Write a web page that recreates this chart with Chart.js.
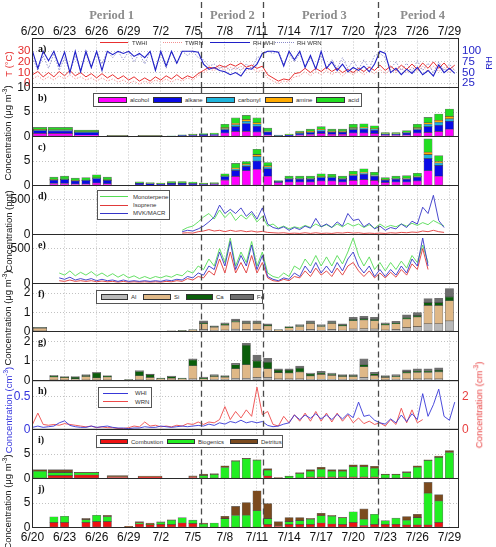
<!DOCTYPE html>
<html><head><meta charset="utf-8">
<script src="https://cdn.jsdelivr.net/npm/chart.js@4.4.1/dist/chart.umd.min.js"></script>
<style>
html,body{margin:0;padding:0;background:#fff}
body{position:relative;width:496px;height:547px;overflow:hidden;font-family:"Liberation Sans",Arial,sans-serif}
canvas{position:absolute;left:0}
.tx{position:absolute;white-space:nowrap;line-height:1}
.per{font:bold 12.5px "Liberation Serif",serif;color:#8c8c8c;transform:translateX(-50%);top:8px}
.dl{font-size:12px;color:#111;transform:translateX(-50%);top:25px}
.lt{font:bold 10px "Liberation Serif",serif;color:#111}
.rot{font-size:9.5px;transform:translate(-50%,-50%) rotate(-90deg)}
.rot sup{font-size:6.5px;vertical-align:4px;line-height:0}
.lg{position:absolute;background:#fff;border:1px solid #555;box-sizing:border-box}
.lgt{position:absolute;font-size:6px;color:#333;white-space:nowrap;line-height:1;transform:translateY(-50%)}
.sw{position:absolute;box-sizing:border-box}
</style></head><body>
<script>
// ---------------- DATA ----------------
const tickLabels = ['6/20','6/23','6/26','6/29','7/2','7/5','7/8','7/11','7/14','7/17','7/20','7/23','7/26','7/29'];
const tickDays = [0,3,6,9,12,15,18,21,24,27,30,33,36,39];          // days since 6/20
const periodNames = ['Period 1','Period 2','Period 3','Period 4'];
const periodBounds = [15.8, 21.6, 32.3];                           // days since 6/20
const periodMid = [7.4, 18.7, 27.3, 36.5];                         // label centres (days)

// a) meteorology, every 0.5 day from 6/20
const metStart = 0, metStep = 0.5;
const tWhi = [8,11,6,10,6,11,7,12,7,10,6,9,5,9,5,8, 4,7,3,6,2,5,2,6,3,7,4,8,4,7,5,9, 12,15,14,17,15,18,16,19,15,17,14,16,8,5,2,4, 3,9,10,14,10,14,11,15,11,14,10,13,10,14,11,15, 12,17,12,16,12,17,13,18,13,19,14,20,14,19,13,17];
const tWrn = [4,7,3,6,3,7,4,8,4,6,3,5,2,5,2,4, 1,3,0,2,-1,2,0,3,1,4,1,4,2,5,3,7, 10,13,12,15,12,15,13,16,12,14,11,12,5,2,0,2, 1,6,7,11,7,11,8,12,8,11,7,11,8,12,8,12, 9,13,9,13,10,14,10,15,11,16,11,16,11,15,10,14];
const rhWhi = [100,60,100,78,100,65,98,50,100,52,100,62,100,55,100,92, 100,95,100,88,95,85,100,55,100,65,100,72,100,100,100,98, 70,58,62,55,52,45,50,42,60,58,70,95,100,100,98,65, 100,80,100,62,90,58,100,60,75,55,70,52,62,55,65,52, 70,100,95,50,60,45,58,48,62,45,55,42,68,50,60,48];
const rhWrn = [85,55,90,60,95,55,85,50,90,55,95,60,100,70,100,85, 100,80,100,75,95,70,100,60,95,60,100,70,100,90,100,85, 80,65,70,60,65,55,62,55,70,60,85,90,100,95,100,70, 95,75,95,65,85,60,90,62,80,60,85,60,78,58,80,60, 90,95,85,60,75,55,72,52,78,55,72,50,75,55,70,55];

// WHI filter samples (centre day, duration in days)
const whiCenter = [0.7,2.6,5.05,7.95,11.0,13,14,15,16,17,18,19,20,21,22,23,24,25,26,27,28,29,30,31,32,33,34,35,36,37,38,39];
const whiDuration = [1.25,2.3,2.3,1.95,2.25,0.78,0.78,0.78,0.78,0.78,0.78,0.78,0.78,0.78,0.78,0.78,0.78,0.78,0.78,0.78,0.78,0.78,0.78,0.78,0.78,0.78,0.78,0.78,0.78,0.78,0.78,0.78];
// WRN filter samples
const wrnCenter = [2,3,4,5,6,7,9,10,11,12,13,14,15,16,17,18,19,20,21,22,23,24,25,26,27,28,29,30,31,32,33,34,35,36,37,38];
const wrnDuration = wrnCenter.map(() => 0.78);

// b) WHI organics
const bAlcohol = [0.6,0.6,0.25,0.02,0.02,0.01,0.05,0.1,0.12,0.15,0.7,1.0,1.05,0.9,0.3,0.05,0.1,0.3,0.4,0.6,0.45,0.45,0.7,0.7,0.6,0.2,0.2,0.3,0.7,0.8,1.0,1.5];
const bAlkane  = [0.6,0.55,0.55,0.12,0.12,0.05,0.15,0.2,0.25,0.25,0.7,1.0,1.6,1.2,0.6,0.1,0.15,0.3,0.4,0.5,0.4,0.4,0.7,0.8,0.7,0.25,0.25,0.4,0.7,1.2,1.3,1.6];
const bCarbonyl= [0.15,0.15,0.1,0.02,0.02,0.01,0.03,0.05,0.05,0.07,0.2,0.4,0.45,0.4,0.1,0.03,0.05,0.1,0.15,0.2,0.15,0.15,0.25,0.25,0.2,0.05,0.05,0.1,0.2,0.5,0.6,0.5];
const bAmine   = [0.05,0.05,0.05,0.01,0.01,0,0.02,0.02,0.03,0.03,0.2,0.3,0.35,0.3,0.1,0.02,0.05,0.1,0.1,0.15,0.1,0.1,0.15,0.15,0.1,0.05,0.05,0.05,0.2,0.3,0.4,0.5];
const bAcid    = [0.45,0.5,0.35,0.08,0.08,0.03,0.1,0.13,0.15,0.2,0.7,1.1,0.85,1.0,0.6,0.1,0.15,0.3,0.45,0.55,0.4,0.4,0.7,0.7,0.6,0.25,0.25,0.35,0.7,1.1,1.3,1.5];
// c) WRN organics
const cAlcohol = [0.4,0.4,0.3,0.3,0.5,0.35,0,0.1,0.05,0.05,0.1,0.1,0.1,0.1,0.15,1.1,1.85,3.0,3.3,1.9,0.6,0.7,0.7,0.7,0.9,0.9,0.7,1.0,1.2,1.0,0.6,0.7,0.7,0.9,3.0,1.9];
const cAlkane  = [0.7,0.8,0.6,0.7,0.9,0.7,0,0.35,0.3,0.25,0.35,0.35,0.3,0.2,0.2,0.7,1.2,0.9,1.7,1.5,0.2,0.6,0.6,0.6,0.7,0.7,0.6,1.0,1.1,0.9,0.5,0.6,0.6,0.8,2.5,2.2];
const cCarbonyl= [0.05,0.05,0.05,0.05,0.1,0.05,0,0.02,0.02,0.02,0.03,0.03,0.03,0.02,0.03,0.1,0.3,0.3,0.9,0.4,0.05,0.1,0.1,0.1,0.1,0.1,0.1,0.2,0.2,0.15,0.05,0.1,0.1,0.1,0.8,0.5];
const cAmine   = [0.05,0.05,0.05,0.05,0.05,0.05,0,0.03,0.03,0.02,0.02,0.02,0.02,0.02,0.02,0.05,0.2,0.2,0.4,0.2,0.05,0.05,0.05,0.05,0.1,0.05,0.05,0.1,0.2,0.1,0.05,0.05,0.1,0.1,0.5,0.3];
const cAcid    = [0.5,0.6,0.5,0.5,0.65,0.55,0,0.25,0.2,0.16,0.3,0.3,0.25,0.16,0.2,0.45,0.95,0.5,1.1,0.7,0.1,0.45,0.45,0.45,0.6,0.55,0.45,0.6,0.7,0.55,0.4,0.45,0.5,0.6,2.7,1.2];

// d) WHI VOCs every 0.5 day from 7/4
const dStart = 14, dStep = 0.5;
const dMono = [60,100,120,180,250,300,220,350,240,320,200,280,220,300,180,260,120,150,90,120,80,110,90,130,100,150,110,140,100,150,110,160,120,150,100,140,90,150,100,130,110,150,120,160,130,170,140,200,160,120];
const dIso  = [20,25,20,40,50,70,50,60,40,60,45,55,40,50,35,45,30,25,20,25,15,20,15,25,15,25,15,20,15,25,20,30,20,25,15,20,15,20,15,25,20,30,25,35,30,50,40,60,40,30];
const dMvk  = [40,60,50,80,120,180,250,420,300,360,300,380,260,330,220,380,150,100,80,110,60,100,70,120,90,230,110,150,100,180,120,300,200,220,110,160,80,120,60,100,80,150,100,190,150,390,300,560,200,100];
// e) WRN VOCs every 0.5 day from 6/22 12h
const eStart = 2.5, eStep = 0.5;
const eMono = [150,120,180,110,160,120,170,110,150,100,140,90,130,80,110,70,100,70,100,80,110,90,130,110,180,150,250,200,350,250,500,300,650,250,450,300,600,250,450,150,100,80,150,100,250,200,350,250,400,250,380,250,400,280,450,650,400,250,380,200,300,180,300,200,320,220,400,300,550,300];
const eIso  = [40,30,50,30,40,30,40,25,35,25,30,20,30,20,25,20,25,20,25,20,30,25,40,30,70,50,100,80,180,120,350,150,450,150,300,150,400,150,300,80,40,30,60,40,100,80,180,100,220,120,180,100,220,120,250,300,180,100,180,80,150,80,160,90,200,120,280,200,500,200];
const eMvk  = [80,60,90,50,70,50,70,40,60,40,50,30,50,30,40,30,40,30,40,30,50,40,60,50,100,80,150,120,250,200,450,250,600,200,400,250,550,200,400,100,60,40,80,60,150,100,250,150,300,150,250,150,300,180,350,450,250,150,250,100,200,100,200,120,250,150,350,250,650,250];

// f) WHI elements
const fAl = [0.03,0,0,0,0,0,0.01,0.02,0.1,0.05,0.08,0.12,0.1,0.1,0.07,0.02,0.05,0.06,0.1,0.06,0.1,0.07,0.13,0.14,0.13,0.08,0.1,0.2,0.25,0.4,0.4,0.55];
const fSi = [0.14,0,0,0,0,0.01,0.02,0.05,0.3,0.17,0.25,0.37,0.32,0.32,0.22,0.05,0.14,0.2,0.32,0.2,0.32,0.22,0.43,0.46,0.43,0.26,0.3,0.45,0.5,0.95,0.95,1.05];
const fCa = [0.02,0,0,0,0,0.01,0.01,0.01,0.05,0.03,0.05,0.06,0.05,0.05,0.04,0.01,0.03,0.04,0.05,0.04,0.05,0.04,0.07,0.07,0.07,0.04,0.05,0.08,0.08,0.15,0.15,0.2];
const fFe = [0.03,0,0,0,0,0.01,0.01,0.02,0.11,0.05,0.07,0.1,0.09,0.09,0.07,0.02,0.04,0.06,0.09,0.06,0.09,0.07,0.11,0.12,0.11,0.07,0.08,0.14,0.16,0.21,0.23,0.44];
// g) WRN elements
const gAl = [0.03,0.03,0.02,0.03,0.03,0.03,0,0.04,0.03,0.02,0.03,0.02,0.08,0.02,0.05,0.05,0.1,0.1,0.15,0.15,0.08,0.08,0.08,0.05,0.06,0.06,0.05,0.05,0.15,0.06,0.04,0.05,0.08,0.08,0.08,0.08];
const gSi = [0.15,0.12,0.06,0.17,0.1,0.15,0.01,0.2,0.12,0.05,0.08,0.05,0.67,0.05,0.15,0.12,0.5,0.7,0.5,0.45,0.32,0.3,0.35,0.18,0.25,0.2,0.15,0.15,0.55,0.2,0.12,0.14,0.3,0.33,0.33,0.36];
const gCa = [0.03,0.02,0.09,0.05,0.25,0.03,0.02,0.22,0.15,0.03,0.08,0.03,0.3,0.05,0.04,0.03,0.2,1.0,0.35,0.33,0.12,0.14,0.2,0.1,0.08,0.06,0.05,0.05,0.1,0.08,0.04,0.05,0.07,0.07,0.07,0.08];
const gFe = [0.05,0.03,0.03,0.05,0.04,0.04,0.02,0.04,0.03,0.02,0.04,0.02,0.05,0.05,0.06,0.05,0.07,0.1,0.3,0.2,0.08,0.08,0.1,0.05,0.08,0.06,0.05,0.05,0.3,0.08,0.05,0.06,0.1,0.12,0.12,0.13];

// h) particle number, every 0.5 day
const hStart = 0, hStep = 0.5;
const hWhi = [0.03,0.05,0.03,0.04,0.05,0.1,0.13,0.06,0.04,0.03,0.03,0.05,0.03,0.04,0.05,0.03, 0.02,0.02,0.01,0.02,0.02,0.04,0.03,0.03,0.05,0.04,0.03,0.04,0.05,0.04,0.05,0.06, 0.05,0.08,0.06,0.1,0.08,0.12,0.1,0.14,0.1,0.12,0.1,0.12,0.06,0.04,0.05,0.08, 0.1,0.22,0.15,0.22,0.17,0.24,0.16,0.22,0.15,0.23,0.16,0.24,0.18,0.42,0.2,0.22, 0.14,0.1,0.08,0.16,0.1,0.22,0.12,0.24,0.15,0.55,0.2,0.38,0.62,0.2,0.14,0.42];
const hWrn = [0.3,1.0,0.3,0.25,0.3,0.25,0.35,0.3,0.25,0.2,0.15,0.2,0.1,0.15,0.1,0.1, 0.05,0.05,0.1,0.2,0.15,0.45,0.2,0.25,0.15,0.2,0.15,0.25,0.2,0.35,0.3,0.45, 0.3,0.45,0.4,0.6,1.4,0.6,1.1,0.7,1.2,0.8,2.6,0.9,1.1,0.3,0.2,0.8, 0.4,0.9,0.5,1.0,0.5,1.1,0.5,1.0,0.45,1.0,0.5,0.9,0.4,0.7,0.35,0.5, 0.3,0.4,0.2,0.6,0.3,1.3,0.4,1.2,0.4,0.6];

// i) WHI sources
const iComb = [0.1,0.6,0.7,0.3,0.25,0,0,0.3,0.1,0.1,0.05,0.05,0.05,0.05,0.5,0.1,0.05,0.1,0.3,0.3,0.3,0.3,0.3,0.3,0.3,0.1,0.1,0.2,0.1,0.1,0.05,0.05];
const iBio  = [1.4,0.6,0.5,0,0,0,0,0,0.5,0.7,2.2,3.5,4.0,3.7,1.2,0,0.4,0.9,1.2,1.6,1.2,1.2,2.1,2.1,1.8,0.7,0.7,1.0,2.2,3.6,4.25,5.25];
const iDet  = [0.3,0.6,0.05,0.3,0.25,0,0,0.25,0.3,0.2,0.35,0.1,0.05,0.05,0.3,0.1,0.05,0.2,0.3,0.4,0.3,0.3,0.4,0.4,0.4,0.1,0.1,0.2,0.3,0.1,0.3,0.4];
// j) WRN sources
const jComb = [1.0,1.0,0,1.0,1.2,1.2,0.1,0.7,0.6,0.6,0.6,0.9,0.8,0.1,0.05,0.05,0.05,0.05,0.05,0.6,0.3,0.6,0.6,0.6,0.9,0.7,0.6,1.0,0.4,0.6,0.6,0.6,0.5,0.5,0.5,1.0];
const jBio  = [1.2,1.3,0,0.6,1.3,1.0,0,0.2,0.05,0.5,0.9,1.1,0.7,0.6,0.85,1.75,2.4,2.45,3.35,1.2,0,0.6,0.8,1.1,1.5,1.6,1.4,2.2,1.3,2.1,0.8,1.3,1.0,1.5,6.5,4.4];
const jDet  = [0,0,0,0.25,0,0.3,0.15,0.3,0.25,0.05,0.05,0,0,0.2,0,0.5,1.85,2.6,4.1,3.1,0.9,0.85,0.65,0.15,0.5,0.2,0.05,0,2.1,0,0,0,0.75,0.7,2.2,1.3];

// ---------------- LAYOUT / STYLE ----------------
Chart.defaults.font.family = '"Liberation Sans", Arial, sans-serif';
const L = 32.5, R = 458.5, XMAX = 39.85;
const pxPerDay = (R - L) / XMAX;
const edges = Array.from({length: 11}, (_, i) => Math.round(38 + i * 48.9) + 0.5);
const GRID = '#c2c2c2';
const C = {red:'#e52b2b', blue:'#2424c8', orgColors:['#ff00ff','#0a0ae6','#1eb4dc','#ffaa00','#22dd22'],
  elColors:['#b9b9b9','#dfb887','#0b5e0b','#6e6e6e'], srcColors:['#ee1111','#22ee22','#7b4a1e']};

function pts(start, step, vals) { return vals.map((v, k) => ({x: start + k * step, y: v})); }

function barSets(centers, durations, comps, colors) {
  const groups = [...new Set(durations)];
  const sets = [];
  comps.forEach((vals, ci) => {
    groups.forEach(du => {
      const data = [];
      centers.forEach((c, k) => { if (durations[k] === du && vals[k] > 0) data.push({x: c, y: vals[k]}); });
      if (data.length) sets.push({type: 'bar', data, backgroundColor: colors[ci], borderColor: 'rgba(20,20,20,0.6)',
        borderWidth: 0.6, borderSkipped: false, grouped: false, barThickness: du * pxPerDay, yAxisID: 'y'});
    });
  });
  return sets;
}
function line(data, color, opt) {
  return Object.assign({type: 'line', data, borderColor: color, borderWidth: 0.9, pointRadius: 0, tension: 0, fill: false, yAxisID: 'y'}, opt || {});
}

const framePlugin = {
  id: 'frame',
  afterDatasetsDraw(chart, args, opts) {
    const {ctx, chartArea: a} = chart;
    const x = chart.scales.x;
    ctx.save();
    ctx.strokeStyle = '#2a2a2a'; ctx.lineWidth = 1;
    ctx.strokeRect(a.left, a.top, a.right - a.left, a.bottom - a.top);
    ctx.setLineDash([6, 4]); ctx.strokeStyle = '#4a4a4a'; ctx.lineWidth = 1.3;
    periodBounds.forEach(d => {
      const px = Math.round(x.getPixelForValue(d)) + 0.5;
      ctx.beginPath(); ctx.moveTo(px, opts.first ? 2 : a.top); ctx.lineTo(px, a.bottom); ctx.stroke();
    });
    ctx.restore();
  }
};

function yScale(o, pos, stacked) {
  return {type: 'linear', position: pos, min: o.min, max: o.max, stacked: !!stacked,
    afterBuildTicks: s => { s.ticks = o.ticks.map(v => ({value: v})); },
    afterFit: s => { s.width = pos === 'left' ? L : 496 - R; },
    ticks: {color: o.color || '#111', font: {size: o.size || 12}, padding: pos === 'left' ? 2 : 3.5, autoSkip: false,
      callback: v => (o.labels || o.ticks).includes(v) ? String(v) : ''},
    grid: {display: pos === 'left', color: GRID, drawTicks: false},
    border: {display: false, dash: [1, 2]}};
}

const charts = [];
function makeChart(idx, spec) {
  const top = edges[idx], bottom = edges[idx + 1];
  const first = idx === 0, last = idx === 9;
  const cTop = first ? 0 : Math.floor(top) - 10;
  const cBot = last ? 547 : Math.ceil(bottom) + 10;
  const H = cBot - cTop;
  const cv = document.createElement('canvas');
  cv.width = 496; cv.height = H;
  cv.style.top = cTop + 'px'; cv.style.width = '496px'; cv.style.height = H + 'px';
  document.body.appendChild(cv);
  const xH = last ? 18 : 0;
  const padTop = top - cTop;
  const padBottom = cBot - bottom - xH;
  const scales = {
    x: {type: 'linear', min: 0, max: XMAX, offset: false, position: 'bottom',
      afterBuildTicks: s => { s.ticks = tickDays.map(v => ({value: v})); },
      afterFit: s => { s.height = xH; },
      ticks: {display: last, autoSkip: false, maxRotation: 0, padding: 3, color: '#111',
        font: {size: 12}, callback: (v, i) => tickLabels[i]},
      grid: {color: GRID, lineWidth: 1, drawTicks: false, offset: false},
      border: {display: false, dash: [1, 2]}},
    y: yScale(spec.y, 'left', spec.stacked)
  };
  if (spec.y2) scales.y2 = yScale(spec.y2, 'right', false);
  charts.push(new Chart(cv, {
    type: spec.stacked ? 'bar' : 'line',
    data: {datasets: spec.datasets},
    options: {
      responsive: false, animation: false, devicePixelRatio: 1, events: [],
      layout: {autoPadding: false, padding: {top: padTop, bottom: padBottom, left: 0, right: spec.y2 ? 0 : 496 - R}},
      plugins: {legend: {display: false}, tooltip: {enabled: false}, frame: {first}},
      scales
    },
    plugins: [framePlugin]
  }));
}

// a
makeChart(0, {y: {min: -4, max: 42, ticks: [0, 10, 20, 30], color: C.red, size: 11.5},
  y2: {min: 15, max: 130, ticks: [25, 50, 75, 100], color: C.blue, size: 11.5},
  datasets: [
    line(pts(metStart, metStep, rhWhi), '#2020c8', {yAxisID: 'y2', borderWidth: 1.1}),
    line(pts(metStart, metStep, tWhi), '#e83030', {borderWidth: 1}),
    line(pts(metStart, metStep, rhWrn), '#8a8ac8', {yAxisID: 'y2', borderDash: [1.5, 1.5]}),
    line(pts(metStart, metStep, tWrn), '#f29090', {borderDash: [1.5, 1.5]})
  ]});
// b
makeChart(1, {stacked: true, y: {min: 0, max: 10, ticks: [0, 5, 10]},
  datasets: barSets(whiCenter, whiDuration, [bAlcohol, bAlkane, bCarbonyl, bAmine, bAcid], C.orgColors)});
// c
makeChart(2, {stacked: true, y: {min: 0, max: 10, ticks: [0, 5, 10], labels: [0, 5]},
  datasets: barSets(wrnCenter, wrnDuration, [cAlcohol, cAlkane, cCarbonyl, cAmine, cAcid], C.orgColors)});
// d
makeChart(3, {y: {min: 0, max: 700, ticks: [0, 500]},
  datasets: [
    line(pts(dStart, dStep, dMvk), '#3535c8'),
    line(pts(dStart, dStep, dIso), '#e03a3a'),
    line(pts(dStart, dStep, dMono), '#55dd55')
  ]});
// e
makeChart(4, {y: {min: 0, max: 700, ticks: [0, 500]},
  datasets: [
    line(pts(eStart, eStep, eMvk), '#3535c8'),
    line(pts(eStart, eStep, eIso), '#e03a3a'),
    line(pts(eStart, eStep, eMono), '#55dd55')
  ]});
// f
makeChart(5, {stacked: true, y: {min: 0, max: 2.5, ticks: [0, 1, 2]},
  datasets: barSets(whiCenter, whiDuration, [fAl, fSi, fCa, fFe], C.elColors)});
// g
makeChart(6, {stacked: true, y: {min: 0, max: 2.5, ticks: [0, 1, 2]},
  datasets: barSets(wrnCenter, wrnDuration, [gAl, gSi, gCa, gFe], C.elColors)});
// h
makeChart(7, {y: {min: 0, max: 0.75, ticks: [0, 0.5], color: '#3333dd'},
  y2: {min: 0, max: 3, ticks: [0, 2], color: '#e84040'},
  datasets: [
    line(pts(hStart, hStep, hWhi), '#3838d8'),
    line(pts(hStart, hStep, hWrn), '#ee4a4a', {yAxisID: 'y2'})
  ]});
// i
makeChart(8, {stacked: true, y: {min: 0, max: 10, ticks: [0, 5, 10], labels: [0, 5]},
  datasets: barSets(whiCenter, whiDuration, [iComb, iBio, iDet], C.srcColors)});
// j
makeChart(9, {stacked: true, y: {min: 0, max: 10, ticks: [0, 5, 10], labels: [0, 5]},
  datasets: barSets(wrnCenter, wrnDuration, [jComb, jBio, jDet], C.srcColors)});

// ---------------- TEXT / LEGENDS ----------------
function div(cls, html, css) {
  const d = document.createElement('div'); d.className = cls; d.innerHTML = html;
  Object.assign(d.style, css || {}); document.body.appendChild(d); return d;
}
const xs = charts[0].scales.x;
periodMid.forEach((d, k) => div('tx per', periodNames[k], {left: xs.getPixelForValue(d) + 'px'}));
tickDays.forEach((d, k) => div('tx dl', tickLabels[k], {left: xs.getPixelForValue(d) + 'px'}));
'abcdefghij'.split('').forEach((ch, k) => div('tx lt', ch + ')', {left: '38px', top: (edges[k] + 4) + 'px'}));

const mu = 'Concentration (\u03bcg m<sup>-3</sup>)';
div('tx rot', 'T (\u00b0C)', {left: '9px', top: '64px', color: C.red});
div('tx rot', 'RH', {left: '489px', top: '63px', color: C.blue});
div('tx rot', mu, {left: '8px', top: '133px', color: '#111'});
div('tx rot', 'Concentration (ppt)', {left: '9px', top: '231px', color: '#111'});
div('tx rot', mu, {left: '8px', top: '318px', color: '#111'});
div('tx rot', 'Concentration (cm<sup>-3</sup>)', {left: '9px', top: '410px', color: '#3333dd'});
div('tx rot', 'Concentration (cm<sup>-3</sup>)', {left: '479px', top: '405px', color: '#e84040'});
div('tx rot', mu, {left: '8px', top: '502px', color: '#111'});

function box(x1, y1, x2, y2) { div('lg', '', {left: x1 + 'px', top: y1 + 'px', width: (x2 - x1) + 'px', height: (y2 - y1) + 'px'}); }
function swRect(x1, x2, yc, h, color) { div('sw', '', {left: x1 + 'px', top: (yc - h / 2) + 'px', width: (x2 - x1) + 'px', height: h + 'px', background: color, border: '0.5px solid #333'}); }
function swLine(x1, x2, yc, color, style) { div('sw', '', {left: x1 + 'px', top: (yc - 0.5) + 'px', width: (x2 - x1) + 'px', height: '0px', borderTop: '1px ' + (style || 'solid') + ' ' + color}); }
function lt(x, yc, text) { div('lgt', text, {left: x + 'px', top: yc + 'px'}); }

// a legend (no frame)
swLine(100, 128, 42.7, '#e83030'); lt(132, 42.7, 'TWHI');
swLine(163, 182, 42.7, '#f29090', 'dotted'); lt(185, 42.7, 'TWRN');
swLine(210, 250, 42.7, '#2020c8'); lt(253, 42.7, 'RH WHI');
swLine(275, 294, 42.7, '#8a8ac8', 'dotted'); lt(297, 42.7, 'RH WRN');
// b legend
box(93, 93, 362, 107);
const orgNames = ['alcohol', 'alkane', 'carbonyl', 'amine', 'acid'];
[[98, 127, 130], [153, 182, 185], [206, 235, 238], [265, 293, 296], [316, 345, 348]].forEach((p, k) => {
  swRect(p[0], p[1], 99.8, 5.5, C.orgColors[k]); lt(p[2], 99.8, orgNames[k]); });
// d legend
box(97, 190, 170, 220);
swLine(100, 128, 196.7, '#55dd55'); lt(133, 196.7, 'Monoterpene');
swLine(100, 128, 205, '#e03a3a'); lt(133, 205, 'Isoprene');
swLine(100, 128, 213.3, '#3535c8'); lt(133, 213.3, 'MVK/MACR');
// f legend
box(96, 290, 263, 304);
const elNames = ['Al', 'Si', 'Ca', 'Fe'];
[[101, 128, 131], [143, 171, 174], [186, 213, 216], [230, 254, 257]].forEach((p, k) => {
  swRect(p[0], p[1], 297, 5.5, C.elColors[k]); lt(p[2], 297, elNames[k]); });
// h legend
box(98, 387, 152, 408);
swLine(103, 128, 393.3, '#3838d8'); lt(135, 393.3, 'WHI');
swLine(103, 128, 401.7, '#ee4a4a'); lt(135, 401.7, 'WRN');
// i legend
box(96, 435, 283, 448);
const srcNames = ['Combustion', 'Biogenics', 'Detritus'];
[[100, 128, 131], [167, 195, 198], [230, 258, 261]].forEach((p, k) => {
  swRect(p[0], p[1], 441.5, 5.5, C.srcColors[k]); lt(p[2], 441.5, srcNames[k]); });
</script>
</body></html>
